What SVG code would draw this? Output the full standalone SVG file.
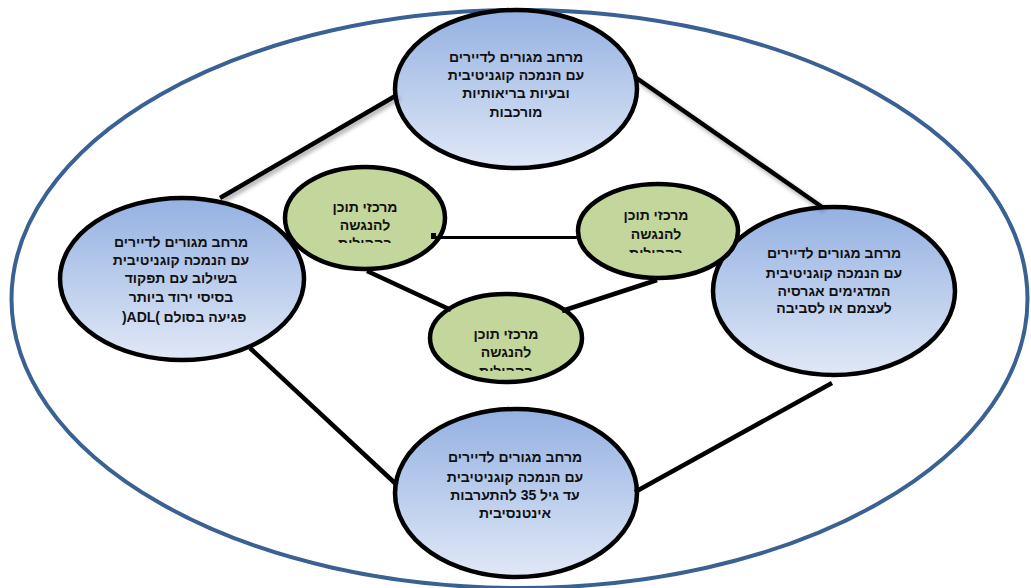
<svg xmlns="http://www.w3.org/2000/svg" width="1031" height="588" viewBox="0 0 1031 588">
<style>
.t{font-family:"Liberation Sans","DejaVu Sans",Arial,sans-serif;font-size:14px;font-weight:bold;fill:#111;text-anchor:middle}
.blue{fill:url(#bg);stroke:#000;stroke-width:4.5}
.green{fill:#c3d69b;stroke:#000;stroke-width:4.5}
.ln{stroke:#000;stroke-width:4.5;fill:none}
</style>
<defs>
<linearGradient id="bg" x1="0" y1="0" x2="0" y2="1">
<stop offset="0" stop-color="#94b1e2"/>
<stop offset="1" stop-color="#e0e8f6"/>
</linearGradient>
<filter id="sh" x="-20%" y="-20%" width="140%" height="140%">
<feDropShadow dx="2" dy="3" stdDeviation="2" flood-color="#000" flood-opacity="0.35"/>
</filter>
<clipPath id="c1"><rect x="300" y="190" width="130" height="53"/></clipPath>
<clipPath id="c2"><rect x="595" y="195" width="125" height="58"/></clipPath>
<clipPath id="c3"><rect x="440" y="315" width="135" height="56"/></clipPath>
</defs>
<rect width="1031" height="588" fill="#fff"/>
<ellipse cx="519.5" cy="299" rx="508" ry="289" fill="none" stroke="#3a6193" stroke-width="4"/>

<g id="node-top">
<ellipse class="blue" cx="516" cy="89" rx="121" ry="79"/>
<text class="t" x="516" y="62">מרחב מגורים לדיירים</text>
<text class="t" x="516" y="80">עם הנמכה קוגניטיבית</text>
<text class="t" x="516" y="98">ובעיות בריאותיות</text>
<text class="t" x="516" y="117">מורכבות</text>
</g>
<g id="node-left">
<ellipse class="blue" cx="182" cy="279" rx="122" ry="81"/>
<text class="t" x="181" y="247">מרחב מגורים לדיירים</text>
<text class="t" x="181" y="265">עם הנמכה קוגניטיבית</text>
<text class="t" x="181" y="283">בשילוב עם תפקוד</text>
<text class="t" x="181" y="302">בסיסי ירוד ביותר</text>
<text class="t" x="141" y="322">)ADL(</text>
<text class="t" x="205" y="322">פגיעה בסולם</text>
</g>
<g id="node-right">
<ellipse class="blue" cx="834" cy="291" rx="121" ry="84"/>
<text class="t" x="834" y="258">מרחב מגורים לדיירים</text>
<text class="t" x="834" y="278">עם הנמכה קוגניטיבית</text>
<text class="t" x="834" y="296">המדגימים אגרסיה</text>
<text class="t" x="834" y="313">לעצמם או לסביבה</text>
</g>
<g id="node-bottom">
<ellipse class="blue" cx="516" cy="493" rx="121" ry="84"/>
<text class="t" x="515" y="462">מרחב מגורים לדיירים</text>
<text class="t" x="515" y="482">עם הנמכה קוגניטיבית</text>
<text class="t" x="515" y="500">עד גיל 35 להתערבות</text>
<text class="t" x="515" y="518">אינטנסיבית</text>
</g>
<g id="hub-left">
<ellipse class="green" cx="365" cy="218" rx="80" ry="51"/>
<g clip-path="url(#c1)">
<text class="t" x="365" y="212">מרכזי תוכן</text>
<text class="t" x="365" y="230">להנגשה</text>
<text class="t" x="365" y="248">בקהילות</text>
</g>
</g>
<g id="hub-right">
<ellipse class="green" cx="658" cy="231" rx="80" ry="47"/>
<g clip-path="url(#c2)">
<text class="t" x="656" y="220">מרכזי תוכן</text>
<text class="t" x="656" y="239">להנגשה</text>
<text class="t" x="656" y="258">בקהילות</text>
</g>
</g>
<g id="hub-bottom">
<ellipse class="green" cx="506" cy="338" rx="76" ry="44"/>
<g clip-path="url(#c3)">
<text class="t" x="506" y="339">מרכזי תוכן</text>
<text class="t" x="506" y="357">להנגשה</text>
<text class="t" x="506" y="376">בקהילות</text>
</g>
</g>

<g id="connectors">
<line class="ln" filter="url(#sh)" x1="220" y1="198" x2="397" y2="95"/>
<line class="ln" filter="url(#sh)" x1="635" y1="77" x2="822" y2="207"/>
<line class="ln" x1="250" y1="348" x2="397" y2="485"/>
<line class="ln" x1="832" y1="383" x2="635" y2="492"/>
<line class="ln" filter="url(#sh)" x1="433" y1="238" x2="578" y2="237"/>
<rect x="431" y="233" width="5" height="6" fill="#000"/>
<line class="ln" x1="367" y1="271" x2="451" y2="310"/>
<line class="ln" x1="657" y1="280" x2="562" y2="311"/>
</g>
</svg>
